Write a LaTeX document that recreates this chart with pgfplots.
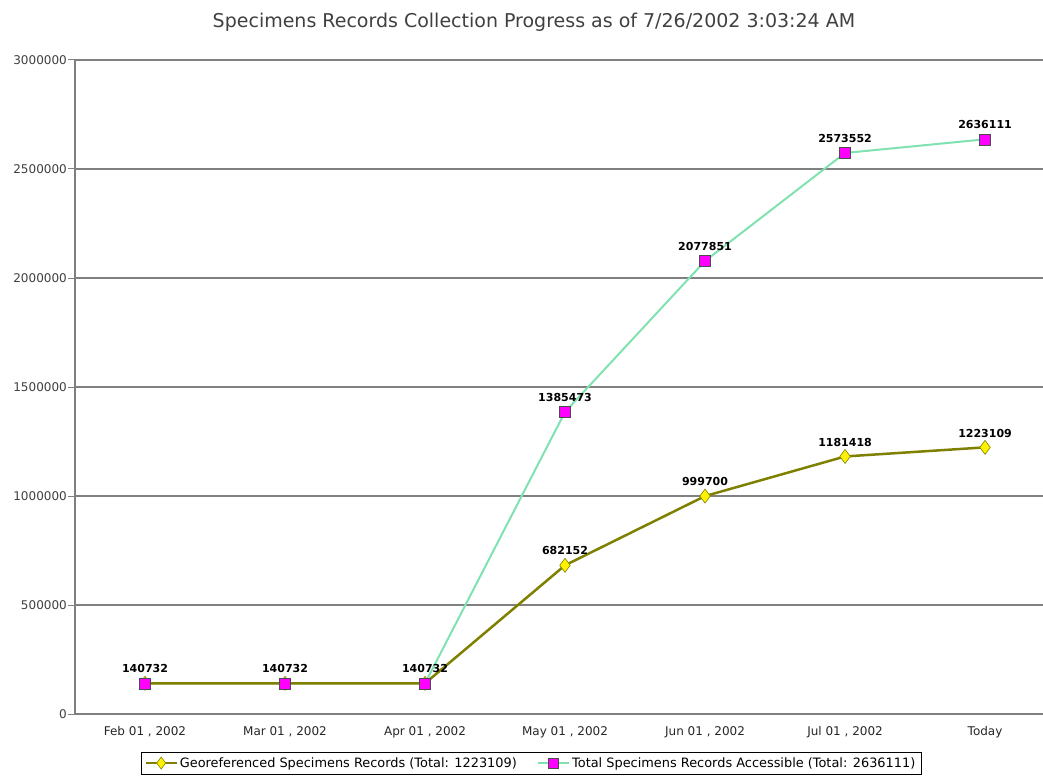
\documentclass[border=0pt]{standalone}
\usepackage{fontspec}
\setmainfont{DejaVu Sans}
\usepackage{pgfplots}
\pgfplotsset{compat=1.18}
\definecolor{olivel}{RGB}{128,128,0}
\definecolor{aqua}{RGB}{128,226,176}
\definecolor{mag}{RGB}{255,0,255}
\definecolor{gridgray}{RGB}{128,128,128}
\begin{document}
\begin{tikzpicture}[x=1pt,y=1pt]
\useasboundingbox (0,0) rectangle (1043,780);
\node[font=\fontsize{19}{19}\selectfont, text=black!75] at (534,758) {Specimens Records Collection Progress as of 7/26/2002 3:03:24 AM};
\begin{axis}[
  at={(75pt,66pt)}, anchor=south west,
  scale only axis, width=968pt, height=654pt,
  xmin=-0.5, xmax=6.414, ymin=0, ymax=3000000,
  axis x line*=bottom, axis y line*=left,
  axis line style={gridgray, line width=1.5pt, -},
  ymajorgrids, grid style={gridgray, line width=1.5pt},
  xtick={0,1,2,3,4,5,6},
  xticklabels={{Feb 01 , 2002},{Mar 01 , 2002},{Apr 01 , 2002},{May 01 , 2002},{Jun 01 , 2002},{Jul 01 , 2002},{Today}},
  xtick style={draw=none},
  xticklabel style={font=\fontsize{12}{12}\selectfont, text=black!85, yshift=-2pt},
  ytick={0,500000,1000000,1500000,2000000,2500000,3000000},
  scaled y ticks=false,
  /pgf/number format/assume math mode=true,
  yticklabel style={/pgf/number format/fixed, /pgf/number format/1000 sep={}, font=\fontsize{12}{12}\selectfont, text=black!75, inner sep=1pt},
  ytick style={gridgray, line width=1pt},
  tick align=outside, major tick length=7pt,
  clip=false,
  legend columns=2,
  legend style={at={(0.471,-0.075)}, anchor=center, draw=black, line width=0.6pt, font=\fontsize{12.9}{12.9}\selectfont, inner sep=3.5pt,
    /tikz/every even column/.append style={column sep=18pt}},
  legend image code/.code={\draw[mark repeat=2,mark phase=2] plot coordinates {(0cm,0cm) (0.55cm,0cm) (1.1cm,0cm)};},
  nodes near coords style={font=\bfseries\fontsize{11}{11}\selectfont, anchor=south, yshift=9pt, inner sep=1pt, text=black},
]
\addlegendimage{olivel, line width=2pt, mark=diamond*, mark size=6pt, mark options={fill=yellow, draw=olivel, line width=0.6pt}}
\addlegendentry{Georeferenced Specimens Records (Total: 1223109)}
\addlegendimage{aqua, line width=2pt, mark=square*, mark size=5pt, mark options={fill=mag, draw=black!70, line width=0.6pt}}
\addlegendentry{Total Specimens Records Accessible (Total: 2636111)}
% Total line (below)
\addplot[forget plot, aqua, line width=2pt] coordinates {
(0,140732) (1,140732) (2,140732) (3,1385473) (4,2077851) (5,2573552) (6,2636111)};
% Georeferenced
\addplot[forget plot, olivel, line width=2.5pt, mark=diamond*, mark size=7pt, mark options={fill=yellow, draw=olivel, line width=0.6pt}] coordinates {
(0,140732) (1,140732) (2,140732) (3,682152) (4,999700) (5,1181418) (6,1223109)};
% Georeferenced labels
\addplot[forget plot, draw=none, nodes near coords, point meta=explicit symbolic] coordinates {
(3,682152) [682152] (4,999700) [999700] (5,1181418) [1181418] (6,1223109) [1223109]};
% Total markers + labels
\addplot[forget plot, only marks, mark=square*, mark size=5.5pt, mark options={fill=mag, draw=black!70, line width=0.6pt}, nodes near coords, point meta=explicit symbolic] coordinates {
(0,140732) [140732] (1,140732) [140732] (2,140732) [140732] (3,1385473) [1385473] (4,2077851) [2077851] (5,2573552) [2573552] (6,2636111) [2636111]};
\end{axis}
\end{tikzpicture}
\end{document}
